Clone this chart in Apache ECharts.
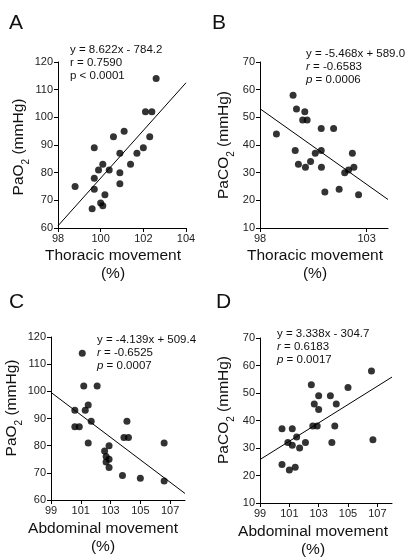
<!DOCTYPE html>
<html><head><meta charset="utf-8">
<script src="https://cdn.jsdelivr.net/npm/echarts@6/dist/echarts.min.js"></script>
<style>html,body{margin:0;padding:0;background:#fff}#c{width:406px;height:557px}</style>
</head><body><div id="c"></div>
<script>
// Panel A: Thoracic movement vs PaO2
const aX = [98.8,99.7,99.9,99.7,99.7,99.6,100.1,100.4,100.0,100.1,100.2,100.6,100.9,100.9,100.9,101.1,101.4,101.7,102.0,102.3,102.1,102.4,102.6];
const aY = [75,89,81,78,74,67,83,81,69,68,72,93,87,80,76,95,83,87,89,93,102,102,114];
const aFit = [[98,60.8],[104,112.5]];
// Panel B: Thoracic movement vs PaCO2
const bX = [99.55,99.71,100.1,100.0,100.21,100.87,101.45,98.77,99.65,99.8,100.13,100.37,100.59,100.87,100.88,101.04,101.71,101.97,102.15,102.33,102.4,102.62];
const bY = [58,53,52,49,49,46,46,44,38,33,32,34,37,38,32,23,24,30,31,37,32,22];
const bFit = [[98,53.1],[104,20.3]];
// Panel C: Abdominal movement vs PaO2
const cX = [101.1,101.2,102.1,101.5,101.3,100.6,101.7,104.1,100.6,100.9,101.5,102.6,102.9,102.7,102.7,102.9,102.9,103.9,104.2,103.8,105.0,106.6,106.6];
const cY = [114,102,102,95,93,93,89,89,87,87,81,78,80,76,74,75,72,83,83,69,68,81,67];
const cFit = [[99,99.6],[108,62.4]];
// Panel D: Abdominal movement vs PaCO2
const dX = [106.6,102.5,105.0,103.0,103.8,102.7,104.2,103.0,100.5,101.2,102.6,102.9,104.1,101.5,100.9,101.2,101.7,102.1,103.9,106.7,100.5,101.0,101.4];
const dY = [58,53,52,49,49,46,46,44,37,37,38,38,38,34,32,31,30,32,32,33,24,22,23];
const dFit = [[99,25.8],[108,55.8]];
// ticks
const ticksA = [98,100,102,104];
const ticksB = [98,103];
const ticksCD = [99,101,103,105,107];

const FONT = 'Liberation Sans, Arial, sans-serif';
const zip = (xs, ys) => xs.map((x,i)=>[x, ys[i]]);

function xAx(idx, min, max, ticks){
  return {type:'value', gridIndex:idx, min:min, max:max, interval:1,
    axisLine:{show:true, onZero:false, lineStyle:{color:'#000', width:1}},
    axisTick:{show:true, length:4, customValues:ticks, lineStyle:{color:'#000'}},
    axisLabel:{customValues:ticks, fontSize:11, color:'#222', fontFamily:FONT, margin:5},
    splitLine:{show:false}};
}
function yAx(idx, min, max){
  return {type:'value', gridIndex:idx, min:min, max:max, interval:10,
    axisLine:{show:true, onZero:false, lineStyle:{color:'#000', width:1}},
    axisTick:{show:true, length:4, lineStyle:{color:'#000'}},
    axisLabel:{fontSize:11, color:'#222', fontFamily:FONT, margin:5, showMinLabel:true, showMaxLabel:true},
    splitLine:{show:false}};
}
function scat(idx, data){
  return {type:'scatter', xAxisIndex:idx, yAxisIndex:idx, data:data, symbolSize:7,
    itemStyle:{color:'#000'}, silent:true};
}
function fit(idx, data){
  return {type:'line', xAxisIndex:idx, yAxisIndex:idx, data:data, showSymbol:false, symbol:'none',
    lineStyle:{color:'#000', width:1}, silent:true};
}
function txt(x, y, text, size, opts){
  return Object.assign({type:'text', x:x, y:y, silent:true,
    style:Object.assign({text:text, font: size+'px '+FONT, fill:'#111', textAlign:'left', textVerticalAlign:'middle', align:'left', verticalAlign:'middle'}, opts||{})}, {});
}
const rich = {
  n:{fontSize:15.5, fontFamily:FONT, color:'#111'},
  s:{fontSize:10, fontFamily:FONT, color:'#111', verticalAlign:'bottom', lineHeight:24},
  t:{fontSize:11.5, fontFamily:FONT, color:'#111'},
  i:{fontSize:11.5, fontFamily:FONT, color:'#111', fontStyle:'italic'}
};
function ytitle(x, y, text){
  return {type:'text', x:x, y:y, rotation:Math.PI/2, silent:true,
    style:{text:text, rich:rich, textAlign:'center', textVerticalAlign:'middle', align:'center', verticalAlign:'middle', fill:'#111'}};
}
function xtitle(x, y, text){
  return {type:'text', x:x, y:y, silent:true,
    style:{text:text, font:'15.5px '+FONT, fill:'#111', lineHeight:18, textAlign:'center', textVerticalAlign:'middle', align:'center', verticalAlign:'middle'}};
}
function ann(x, y, lines){
  return {type:'text', x:x, y:y, silent:true,
    style:{text:lines.join('\n'), rich:rich, lineHeight:13, textAlign:'left', textVerticalAlign:'top', align:'left', verticalAlign:'top', fill:'#111'}};
}

const chart = echarts.init(document.getElementById('c'), null, {renderer:'canvas'});
chart.setOption({
  animation:false,
  backgroundColor:'#fff',
  grid:[
    {left:58, top:62, width:128, height:166},
    {left:260, top:62, width:128, height:166},
    {left:51, top:337, width:134, height:163},
    {left:260, top:338, width:132, height:165}
  ],
  xAxis:[xAx(0,98,104,ticksA), xAx(1,98,104,ticksB), xAx(2,99,108,ticksCD), xAx(3,99,108,ticksCD)],
  yAxis:[yAx(0,60,120), yAx(1,10,70), yAx(2,60,120), yAx(3,10,70)],
  series:[
    fit(0,aFit), scat(0,zip(aX,aY)),
    fit(1,bFit), scat(1,zip(bX,bY)),
    fit(2,cFit), scat(2,zip(cX,cY)),
    fit(3,dFit), scat(3,zip(dX,dY))
  ],
  graphic:[
    txt(9, 23, 'A', 21), txt(212, 23, 'B', 21), txt(9, 302, 'C', 21), txt(216, 302, 'D', 21),
    ytitle(19, 147, '{n|PaO}{s|2}{n| (mmHg)}'),
    ytitle(224, 145, '{n|PaCO}{s|2}{n| (mmHg)}'),
    ytitle(12, 408, '{n|PaO}{s|2}{n| (mmHg)}'),
    ytitle(224, 410, '{n|PaCO}{s|2}{n| (mmHg)}'),
    xtitle(113, 265, 'Thoracic movement\n(%)'),
    xtitle(315, 265, 'Thoracic movement\n(%)'),
    xtitle(103, 538, 'Abdominal movement\n(%)'),
    xtitle(313, 541, 'Abdominal movement\n(%)'),
    ann(70, 43, ['{t|y = 8.622x - 784.2}', '{t|r = 0.7590}', '{t|p < 0.0001}']),
    ann(306, 47, ['{t|y = -5.468x + 589.0}', '{i|r}{t| = -0.6583}', '{i|p}{t| = 0.0006}']),
    ann(97, 333, ['{t|y = -4.139x + 509.4}', '{i|r}{t| = -0.6525}', '{i|p}{t| = 0.0007}']),
    ann(277, 327, ['{t|y = 3.338x - 304.7}', '{i|r}{t| = 0.6183}', '{i|p}{t| = 0.0017}'])
  ]
});
</script></body></html>
